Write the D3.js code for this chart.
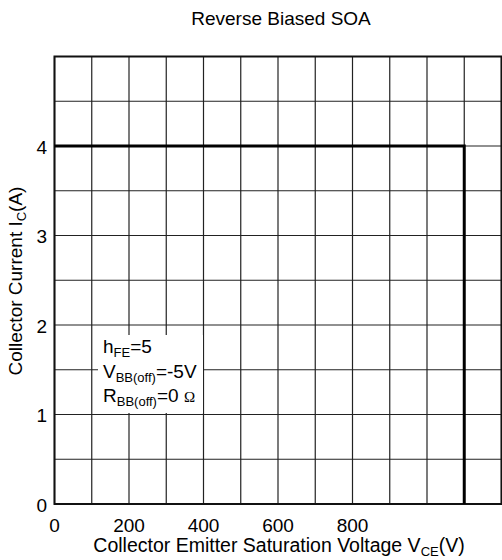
<!DOCTYPE html>
<html>
<head>
<meta charset="utf-8">
<script src="https://cdn.jsdelivr.net/npm/d3@7"></script>
<style>
  body { margin: 0; background: #fff; }
  text { font-family: "Liberation Sans", Arial, sans-serif; fill: #000; }
</style>
</head>
<body>
<script>
const width = 502;
const height = 560;

// chart values
const xTicks = [0, 200, 400, 600, 800];
const yTicks = [0, 1, 2, 3, 4];
const xGrid = d3.range(0, 1201, 100);
const yGrid = d3.range(0, 5.01, 0.5);
const soaV = [0, 1100, 1100];
const soaI = [4, 4, 0];

const margin = {left: 54.5, right: 0.5, top: 56.5, bottom: 56};

const x = d3.scaleLinear().domain([0, 1200]).range([margin.left, width - margin.right]);
const y = d3.scaleLinear().domain([0, 5]).range([height - margin.bottom, margin.top]);

const svg = d3.select("body").append("svg")
    .attr("width", width)
    .attr("height", height);

// grid
svg.append("g").selectAll("line")
    .data(xGrid)
    .enter().append("line")
    .attr("x1", d => x(d)).attr("x2", d => x(d))
    .attr("y1", y(0)).attr("y2", y(5))
    .attr("stroke", "#222")
    .attr("stroke-width", 1.2);

svg.append("g").selectAll("line")
    .data(yGrid)
    .enter().append("line")
    .attr("x1", x(0)).attr("x2", x(1200))
    .attr("y1", d => y(d)).attr("y2", d => y(d))
    .attr("stroke", "#222")
    .attr("stroke-width", 1.2);

// frame
svg.append("rect")
    .attr("x", x(0)).attr("y", y(5))
    .attr("width", x(1200) - x(0)).attr("height", y(0) - y(5))
    .attr("fill", "none")
    .attr("stroke", "#111")
    .attr("stroke-width", 2);

// SOA boundary
const line = d3.line()
    .x((d, i) => x(soaV[i]))
    .y((d, i) => y(soaI[i]));
svg.append("path")
    .datum(soaV)
    .attr("d", line)
    .attr("fill", "none")
    .attr("stroke", "#000")
    .attr("stroke-width", 3);

// tick labels
svg.append("g").selectAll("text")
    .data(xTicks)
    .enter().append("text")
    .attr("x", d => x(d))
    .attr("y", y(0) + 28)
    .attr("text-anchor", "middle")
    .attr("font-size", 19)
    .text(d => d);

svg.append("g").selectAll("text")
    .data(yTicks)
    .enter().append("text")
    .attr("x", x(0) - 7.5)
    .attr("y", d => y(d) + 7.5)
    .attr("text-anchor", "end")
    .attr("font-size", 19)
    .text(d => d);

// title
svg.append("text")
    .attr("x", 281).attr("y", 25)
    .attr("text-anchor", "middle")
    .attr("font-size", 19)
    .text("Reverse Biased SOA");

// axis labels
const xl = svg.append("text")
    .attr("x", 279).attr("y", 552)
    .attr("text-anchor", "middle")
    .attr("font-size", 19.5);
xl.append("tspan").text("Collector Emitter Saturation Voltage V");
xl.append("tspan").attr("font-size", 13).attr("dy", 4).text("CE");
xl.append("tspan").attr("dy", -4).text("(V)");

const yl = svg.append("text")
    .attr("transform", "translate(22,281) rotate(-90)")
    .attr("text-anchor", "middle")
    .attr("font-size", 19);
yl.append("tspan").text("Collector Current I");
yl.append("tspan").attr("font-size", 13).attr("dy", 4).text("C");
yl.append("tspan").attr("dy", -4).text("(A)");

// conditions note
svg.append("rect")
    .attr("x", 98).attr("y", 335)
    .attr("width", 105).attr("height", 78)
    .attr("fill", "#fff");

const note = [
    ["h", "FE", "=5", ""],
    ["V", "BB(off)", "=-5V", ""],
    ["R", "BB(off)", "=0 ", "\u03A9"]
];
note.forEach((n, i) => {
    const t = svg.append("text")
        .attr("x", 103)
        .attr("y", 353 + i * 24.5)
        .attr("font-size", 19);
    t.append("tspan").text(n[0]);
    t.append("tspan").attr("font-size", 13).attr("dy", 4).text(n[1]);
    t.append("tspan").attr("dy", -4).text(n[2]);
    if (n[3]) {
        t.append("tspan")
            .attr("font-size", 15)
            .style("font-family", "'Liberation Serif', serif")
            .text(n[3]);
    }
});
</script>
</body>
</html>
